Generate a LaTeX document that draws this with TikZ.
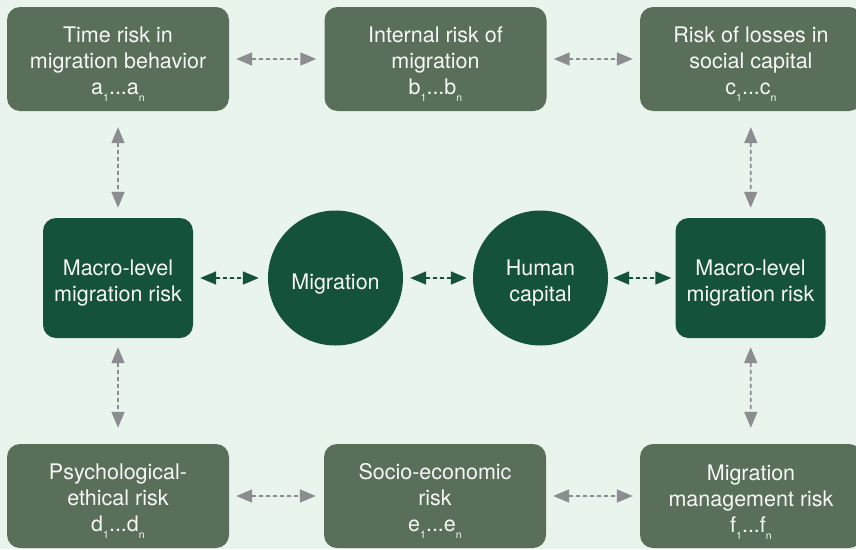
\documentclass[tikz,border=0pt]{standalone}
\usepackage{fontspec}
\setmainfont{TeX Gyre Heros}
\usetikzlibrary{arrows.meta, positioning}
\definecolor{bgmint}{HTML}{E9F4ED}
\definecolor{riskgreen}{HTML}{5A6F5A}
\definecolor{coregreen}{HTML}{15523A}
\definecolor{linkgray}{HTML}{8C8D91}
\newcommand{\idx}[1]{\raisebox{-7pt}[0pt][0pt]{\fontsize{10.5}{10.5}\selectfont #1}}
\newcommand{\lift}[1]{\rule{0pt}{#1}}
\tikzset{
    x=1pt, y=-1pt, % pixel grid of the layout, y going down
    riskbox/.style={rectangle, rounded corners=13pt, fill=riskgreen, text=white!94!gray,
        minimum width=222pt, minimum height=104pt, align=center, inner sep=0pt,
        font=\fontsize{21.5}{26}\selectfont},
    macrobox/.style={riskbox, fill=coregreen, minimum width=150pt, minimum height=120pt},
    core/.style={circle, fill=coregreen, text=white!94!gray, minimum size=135pt,
        align=center, inner sep=0pt, font=\fontsize{21.5}{26}\selectfont},
    link/.style={{Triangle[length=16pt,width=13pt]}-{Triangle[length=16pt,width=13pt]},
        line width=1.7pt, dash pattern=on 4pt off 3pt, draw=linkgray, fill=linkgray},
    corelink/.style={link, draw=coregreen, fill=coregreen},
}
\begin{document}
\begin{tikzpicture}
    \fill[bgmint] (0,0) rectangle (856,549);
    \useasboundingbox (0,0) rectangle (856,549);
    % outer risk boxes
    \node[riskbox] (timerisk) at (118,59) {\lift{20pt}Time risk in\\migration behavior\\a\idx{1}...a\idx{n}};
    \node[riskbox] (internal) at (435.5,59) {\lift{20pt}Internal risk of\\migration\\b\idx{1}...b\idx{n}};
    \node[riskbox] (social) at (751,59) {\lift{20pt}Risk of losses in\\social capital\\c\idx{1}...c\idx{n}};
    \node[riskbox] (psych) at (118,496) {\lift{20pt}Psychological-\\ethical risk\\d\idx{1}...d\idx{n}};
    \node[riskbox] (socio) at (435,496) {\lift{20pt}Socio-economic\\risk\\e\idx{1}...e\idx{n}};
    \node[riskbox] (manage) at (751,496) {\lift{20pt}Migration\\management risk\\f\idx{1}...f\idx{n}};
    % middle row
    \node[macrobox] (macroL) at (118,278) {\lift{26pt}Macro-level\\migration risk};
    \node[core] (migration) at (335.5,278) {\lift{28pt}Migration};
    \node[core] (human) at (540.5,278) {\lift{26pt}Human\\capital};
    \node[macrobox] (macroR) at (750.5,278) {\lift{26pt}Macro-level\\migration risk};
    \draw
    (timerisk) edge[link, shorten <=7pt, shorten >=8pt] (internal)
    (internal) edge[link, shorten <=7pt, shorten >=7pt] (social)
    (psych) edge[link, shorten <=7pt, shorten >=8pt] (socio)
    (socio) edge[link, shorten <=7pt, shorten >=7pt] (manage)
    (timerisk) edge[link, shorten <=16pt, shorten >=10pt] (macroL)
    (macroL) edge[link, shorten <=9pt, shorten >=16pt] (psych)
    (social) edge[link, shorten <=16pt, shorten >=10pt] (macroR)
    (macroR) edge[link, shorten <=9pt, shorten >=16pt] (manage)
    (macroL) edge[corelink, shorten <=7pt, shorten >=9pt] (migration)
    (migration) edge[corelink, shorten <=7pt, shorten >=6pt] (human)
    (human) edge[corelink, shorten <=5pt, shorten >=4pt] (macroR);
\end{tikzpicture}
\end{document}
